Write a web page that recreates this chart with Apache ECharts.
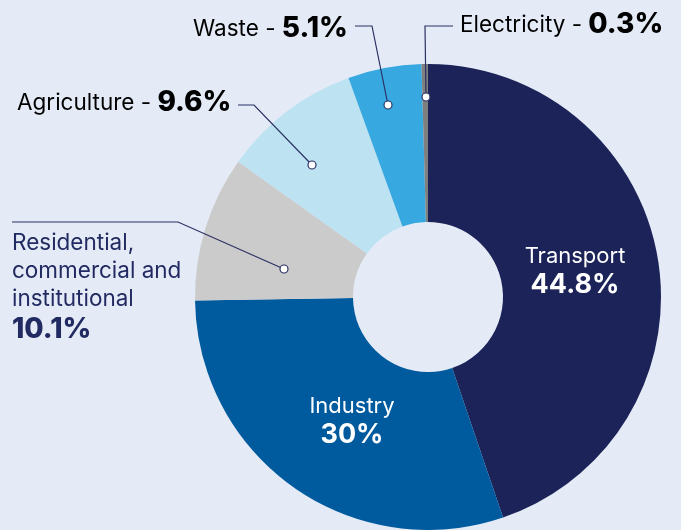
<!DOCTYPE html>
<html>
<head>
<meta charset="utf-8">
<script src="https://cdn.jsdelivr.net/npm/echarts@6/dist/echarts.min.js"></script>
<style>
html,body{margin:0;padding:0;background:#e4ebf6;}
#chart{width:681px;height:530px;}
</style>
</head>
<body>
<div id="chart"></div>
<script>
const categories = ['Transport', 'Industry', 'Residential, commercial and institutional', 'Agriculture', 'Waste', 'Electricity'];
const shares = [44.8, 30, 10.1, 9.6, 5.1, 0.3];
const shareLabels = ['44.8%', '30%', '10.1%', '9.6%', '5.1%', '0.3%'];
const sliceColors = ['#1b2358', '#005a9e', '#cbcbcb', '#bde2f2', '#37a9e0', '#7f7f7f'];

const TEXT = '#222a62';
const FONT = 'Inter, "Noto Sans", sans-serif';

const chart = echarts.init(document.getElementById('chart'), null, {renderer: 'canvas'});

const data = categories.map((c, i) => ({
  name: c,
  value: shares[i],
  itemStyle: {color: sliceColors[i]},
  label: i < 2 ? {show: true} : {show: false}
}));

// leader lines: [dot, bend, end]
const leaders = [
  {idx: 2, pts: [[284, 269], [178, 222], [12, 222]]},
  {idx: 3, pts: [[312, 165], [254, 105], [238, 105]]},
  {idx: 4, pts: [[388, 105], [372, 26], [355, 26]]},
  {idx: 5, pts: [[426, 97], [425, 26], [453, 26]]}
];

const graphics = [];
leaders.forEach(l => {
  graphics.push({
    type: 'polyline', z: 10,
    shape: {points: l.pts},
    style: {stroke: '#2b3063', lineWidth: 1.2, fill: null}
  });
  graphics.push({
    type: 'circle', z: 11,
    shape: {cx: l.pts[0][0], cy: l.pts[0][1], r: 4},
    style: {fill: '#ffffff', stroke: '#2b3063', lineWidth: 1.2}
  });
});

const rich = {
  n: {fontFamily: FONT, fontSize: 22.5, color: TEXT, fontWeight: 400},
  v: {fontFamily: FONT, fontSize: 28, color: TEXT, fontWeight: 800}
};
function oneLine(i, x, y) {
  graphics.push({
    type: 'text', z: 12, x: x, y: y,
    style: {
      text: '{n|' + categories[i] + ' - }{v|' + shareLabels[i] + '}',
      rich: rich, align: 'left', verticalAlign: 'middle'
    }
  });
}
oneLine(4, 193, 29);
oneLine(5, 460, 25);
oneLine(3, 17, 103);

const resLines = ['Residential,', 'commercial and', 'institutional'];
resLines.forEach((t, k) => {
  graphics.push({
    type: 'text', z: 12, x: 12, y: 243 + k * 28,
    style: {text: t, font: '400 22.5px ' + FONT, fill: TEXT, align: 'left', verticalAlign: 'middle'}
  });
});
graphics.push({
  type: 'text', z: 12, x: 12, y: 330,
  style: {text: shareLabels[2], font: '800 28px ' + FONT, fill: TEXT, align: 'left', verticalAlign: 'middle'}
});

chart.setOption({
  backgroundColor: '#e4ebf6',
  animation: false,
  series: [{
    type: 'pie',
    center: [428, 297],
    radius: [75, 233],
    startAngle: 90,
    clockwise: true,
    minAngle: 1.6,
    silent: true,
    data: data,
    labelLine: {show: false},
    label: {
      position: 'inside',
      formatter: p => '{n|' + p.name + '}\n{v|' + shareLabels[p.dataIndex] + '}',
      rich: {
        n: {fontFamily: FONT, fontSize: 22, color: '#ffffff', fontWeight: 400, lineHeight: 28, align: 'center'},
        v: {fontFamily: FONT, fontSize: 27, color: '#ffffff', fontWeight: 700, lineHeight: 30, align: 'center'}
      }
    },
    labelLayout: p => {
      if (p.dataIndex === 0) return {x: 575, y: 271, align: 'center', verticalAlign: 'middle'};
      if (p.dataIndex === 1) return {x: 352, y: 421, align: 'center', verticalAlign: 'middle'};
      return {};
    }
  }],
  graphic: graphics
});
</script>
</body>
</html>
